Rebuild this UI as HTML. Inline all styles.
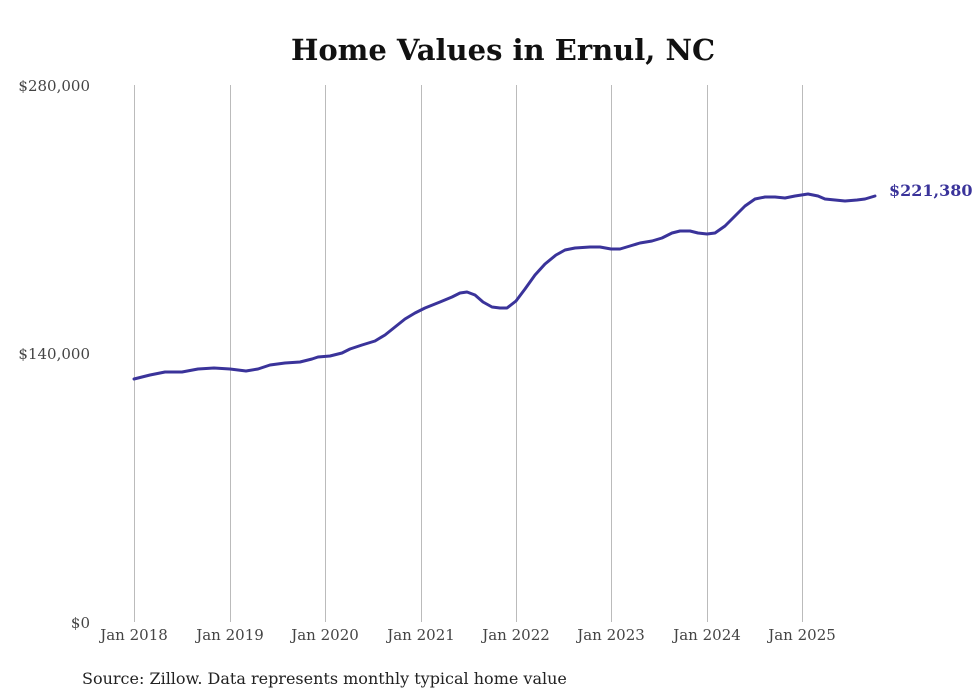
<!DOCTYPE html>
<html><head><meta charset="utf-8"><style>
body{margin:0;background:#fff;}
svg{display:block;font-family:"DejaVu Serif","Liberation Serif",serif;}
</style></head><body>
<svg width="980" height="699" viewBox="0 0 980 699" xmlns="http://www.w3.org/2000/svg">
<rect width="980" height="699" fill="#fff"/>
<text x="503" y="60" text-anchor="middle" font-size="29" font-weight="bold" fill="#111">Home Values in Ernul, NC</text>
<g stroke="#bbb" stroke-width="1">
<line x1="134.5" y1="85" x2="134.5" y2="622"/>
<line x1="230.5" y1="85" x2="230.5" y2="622"/>
<line x1="325.5" y1="85" x2="325.5" y2="622"/>
<line x1="421.5" y1="85" x2="421.5" y2="622"/>
<line x1="516.5" y1="85" x2="516.5" y2="622"/>
<line x1="611.5" y1="85" x2="611.5" y2="622"/>
<line x1="707.5" y1="85" x2="707.5" y2="622"/>
<line x1="802.5" y1="85" x2="802.5" y2="622"/>
</g>
<g font-size="15" fill="#444" text-anchor="end">
<text x="90" y="91">$280,000</text>
<text x="90" y="359">$140,000</text>
<text x="90" y="628">$0</text>
</g>
<g font-size="15" fill="#444" text-anchor="middle">
<text x="134" y="640">Jan 2018</text>
<text x="230" y="640">Jan 2019</text>
<text x="325" y="640">Jan 2020</text>
<text x="421" y="640">Jan 2021</text>
<text x="516" y="640">Jan 2022</text>
<text x="611" y="640">Jan 2023</text>
<text x="707" y="640">Jan 2024</text>
<text x="802" y="640">Jan 2025</text>
</g>
<polyline fill="none" stroke="#3a339a" stroke-width="3" stroke-linejoin="round" stroke-linecap="round" points="134,379 150,375 165,372 182,372 198,369 214,368 230,369 246,371 258,369 270,365 285,363 300,362 312,359 318,357 330,356 342,353 350,349 362,345 375,341 385,335 395,327 405,319 415,313 425,308 440,302 452,297 460,293 467,292 475,295 483,302 492,307 500,308 507,308 516,301 525,289 535,275 545,264 556,255 565,250 575,248 590,247 600,247 611,249 620,249 630,246 640,243 652,241 662,238 672,233 680,231 690,231 698,233 707,234 715,233 725,226 735,216 745,206 755,199 765,197 775,197 785,198 795,196 808,194 818,196 825,199 835,200 845,201 857,200 865,199 875,196"/>
<text x="889" y="196" font-size="16" font-weight="bold" fill="#3a339a">$221,380</text>
<text x="82" y="684" font-size="16" fill="#222">Source: Zillow. Data represents monthly typical home value</text>
</svg>
</body></html>
